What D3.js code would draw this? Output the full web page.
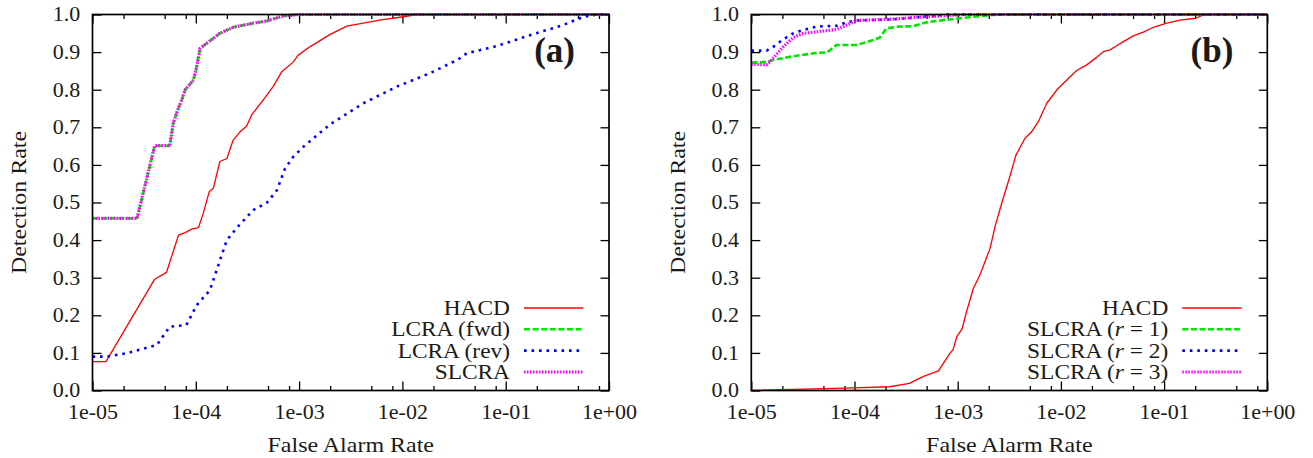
<!DOCTYPE html>
<html>
<head>
<meta charset="utf-8">
<script src="https://cdn.jsdelivr.net/npm/d3@7"></script>
<style>
  html, body { margin: 0; padding: 0; background: #fff; }
  svg { display: block; }
</style>
</head>
<body>
<svg id="chart" width="1313" height="458"></svg>
<script>
// ---- ROC data: [false alarm rate, detection rate] ----
const hacdA = [[1e-5,0.077],[1.35e-5,0.077],[4.0e-5,0.296],[5.2e-5,0.314],[6.8e-5,0.413],[7.9e-5,0.42],[9.1e-5,0.429],[1.06e-4,0.433],[1.18e-4,0.471],[1.35e-4,0.529],[1.48e-4,0.538],[1.71e-4,0.609],[2.0e-4,0.617],[2.3e-4,0.666],[2.68e-4,0.688],[3.1e-4,0.703],[3.47e-4,0.733],[4.5e-4,0.773],[5.6e-4,0.808],[6.8e-4,0.848],[8.8e-4,0.874],[9.8e-4,0.892],[1.27e-3,0.914],[2.0e-3,0.947],[2.9e-3,0.969],[6.0e-3,0.985],[1.02e-2,0.994],[1.38e-2,1.0],[1,1.0]];
const lcraFwdA = [[1e-5,0.458],[2.7e-5,0.458],[4.0e-5,0.651],[5.6e-5,0.651],[6.05e-5,0.711],[6.5e-5,0.737],[7.3e-5,0.773],[7.9e-5,0.8],[9.5e-5,0.826],[1.02e-4,0.861],[1.1e-4,0.91],[1.27e-4,0.923],[1.71e-4,0.95],[2.3e-4,0.966],[3.6e-4,0.977],[4.9e-4,0.983],[7e-4,0.996],[1e-3,1.0],[1,1.0]];
const lcraRevA = [[1e-5,0.09],[1.37e-5,0.09],[2.14e-5,0.099],[4.2e-5,0.121],[5.6e-5,0.17],[8.1e-5,0.174],[1.02e-4,0.227],[1.37e-4,0.267],[1.59e-4,0.32],[1.78e-4,0.36],[2.0e-4,0.40],[2.5e-4,0.433],[3.6e-4,0.48],[4.9e-4,0.5],[6.1e-4,0.533],[7.3e-4,0.59],[8.8e-4,0.622],[1.1e-3,0.648],[1.6e-3,0.686],[2.0e-3,0.708],[4.2e-3,0.764],[8.8e-3,0.808],[1.85e-2,0.844],[3.4e-2,0.879],[4.2e-2,0.897],[8.2e-2,0.916],[0.172,0.945],[0.36,0.972],[0.565,0.994],[0.76,1.0],[1,1.0]];
const slcraA = [[1e-5,0.458],[2.7e-5,0.458],[4.0e-5,0.651],[5.6e-5,0.651],[6.05e-5,0.711],[6.5e-5,0.737],[7.3e-5,0.773],[7.9e-5,0.8],[9.5e-5,0.826],[1.02e-4,0.861],[1.1e-4,0.91],[1.27e-4,0.923],[1.71e-4,0.95],[2.3e-4,0.966],[3.6e-4,0.977],[4.9e-4,0.983],[7e-4,0.996],[1e-3,1.0],[1,1.0]];

const hacdB = [[1e-5,0.0],[5e-5,0.005],[9.7e-5,0.007],[2.2e-4,0.01],[3.4e-4,0.019],[4.6e-4,0.037],[6.5e-4,0.052],[8.4e-4,0.099],[9e-4,0.108],[9.8e-4,0.143],[1.1e-3,0.163],[1.22e-3,0.21],[1.42e-3,0.272],[1.64e-3,0.307],[1.71e-3,0.32],[2.06e-3,0.378],[2.3e-3,0.436],[2.67e-3,0.498],[3.2e-3,0.569],[3.67e-3,0.626],[4.49e-3,0.671],[5.2e-3,0.688],[6.04e-3,0.715],[7.3e-3,0.764],[9.1e-3,0.799],[1.14e-2,0.826],[1.42e-2,0.851],[1.78e-2,0.866],[2.22e-2,0.886],[2.58e-2,0.901],[2.99e-2,0.906],[3.47e-2,0.917],[4.03e-2,0.928],[5.03e-2,0.943],[6.3e-2,0.953],[7.86e-2,0.966],[0.106,0.977],[0.143,0.985],[0.2,0.99],[0.249,1.0],[1,1.0]];
const slcraR1B = [[1e-5,0.872],[1.41e-5,0.874],[1.63e-5,0.879],[2.55e-5,0.889],[4.3e-5,0.898],[5.4e-5,0.899],[6.7e-5,0.919],[1.05e-4,0.919],[1.52e-4,0.932],[1.76e-4,0.939],[2.04e-4,0.963],[2.74e-4,0.968],[3.68e-4,0.969],[4.96e-4,0.979],[7.2e-4,0.985],[1.05e-3,0.99],[1.42e-3,0.994],[2.5e-3,1.0],[1,1.0]];
const slcraR2B = [[1e-5,0.904],[1.41e-5,0.904],[1.63e-5,0.914],[2.04e-5,0.934],[2.55e-5,0.95],[3.2e-5,0.959],[4.3e-5,0.968],[6.7e-5,0.97],[8.4e-5,0.979],[1.05e-4,0.984],[2.37e-4,0.987],[4.6e-4,0.994],[8e-4,1.0],[1,1.0]];
const slcraR3B = [[1e-5,0.868],[1.41e-5,0.866],[1.63e-5,0.884],[2.04e-5,0.914],[2.55e-5,0.939],[3.2e-5,0.95],[4.3e-5,0.954],[6.7e-5,0.96],[8.4e-5,0.972],[1.05e-4,0.984],[2.37e-4,0.988],[5e-4,0.994],[9e-4,0.998],[1.2e-3,1.0],[1,1.0]];

const legendA = ["HACD", "LCRA (fwd)", "LCRA (rev)", "SLCRA"];
const legendB = ["HACD", "SLCRA (r = 1)", "SLCRA (r = 2)", "SLCRA (r = 3)"];

const xMajorTicks = [1e-5, 1e-4, 1e-3, 1e-2, 1e-1, 1];
const xTickLabels = ["1e-05", "1e-04", "1e-03", "1e-02", "1e-01", "1e+00"];
const xMinorMantissas = [2, 5, 8];
const yTicks = [0, 0.1, 0.2, 0.3, 0.4, 0.5, 0.6, 0.7, 0.8, 0.9, 1.0];

const xTitle = "False Alarm Rate";
const yTitle = "Detection Rate";

// ---- line styles (solid / dashed / dotted / fine dotted) ----
const styles = [
  { color: "#ff0000", width: 1.3, dash: null },
  { color: "#00e600", width: 2.6, dash: "6,2.6" },
  { color: "#0000ff", width: 2.6, dash: "2.6,4.9" },
  { color: "#ff00ff", width: 3.2, dash: "1.5,1.5" }
];

const FONT = "'Liberation Serif', Tinos, 'Times New Roman', serif";
const svg = d3.select("#chart").style("font-family", FONT);
const plotTop = 14.5, plotBottom = 390.5;
const FS = 20;          // base font size
const numStretch = 1.1; // horizontal stretch for numeric labels
const txtStretch = 1.2; // horizontal stretch for word labels

const minorTicks = [];
for (let e = -5; e < 0; e++) xMinorMantissas.forEach(m => minorTicks.push(m * Math.pow(10, e)));

function label(sel) {
  return sel.style("font-family", FONT).attr("fill", "#1a1a1a");
}

function drawPanel(left, right, series, legend, tag) {
  const x = d3.scaleLog().domain([1e-5, 1]).range([left, right]);
  const y = d3.scaleLinear().domain([0, 1]).range([plotBottom, plotTop]);
  const g = svg.append("g");

  // bottom axis with labels
  g.append("g").attr("transform", `translate(0,${plotBottom})`)
    .call(d3.axisBottom(x).tickValues(xMajorTicks).tickSize(-9).tickPadding(14.6)
      .tickFormat((d, i) => xTickLabels[i]));
  g.append("g").attr("transform", `translate(0,${plotBottom})`)
    .call(d3.axisBottom(x).tickValues(minorTicks).tickSize(-4.5).tickFormat(""));
  // top mirror ticks
  g.append("g").attr("transform", `translate(0,${plotTop})`)
    .call(d3.axisTop(x).tickValues(xMajorTicks).tickSize(-9).tickFormat(""));
  g.append("g").attr("transform", `translate(0,${plotTop})`)
    .call(d3.axisTop(x).tickValues(minorTicks).tickSize(-4.5).tickFormat(""));
  // left axis with labels, right mirror ticks
  g.append("g").attr("transform", `translate(${left},0)`)
    .call(d3.axisLeft(y).tickValues(yTicks).tickSize(-9).tickPadding(12.3 / numStretch)
      .tickFormat(d3.format(".1f")));
  g.append("g").attr("transform", `translate(${right},0)`)
    .call(d3.axisRight(y).tickValues(yTicks).tickSize(-8.5).tickFormat(""));

  g.selectAll(".domain").remove();
  g.selectAll("g").attr("font-family", null).attr("font-size", null);
  g.selectAll(".tick line").attr("stroke", "#000").attr("stroke-width", 1.3);
  label(g.selectAll(".tick text")).attr("font-size", FS)
    .attr("transform", `scale(${numStretch},1)`);

  // curves
  const line = d3.line().x(d => x(d[0])).y(d => y(d[1]));
  series.forEach((s, i) => {
    const st = styles[i];
    g.append("path").datum(s).attr("d", line)
      .attr("fill", "none").attr("stroke", st.color).attr("stroke-width", st.width)
      .attr("stroke-dasharray", st.dash).attr("stroke-linejoin", "round");
  });

  // frame
  g.append("rect").attr("x", left).attr("y", plotTop).attr("width", right - left).attr("height", plotBottom - plotTop)
    .attr("fill", "none").attr("stroke", "#000").attr("stroke-width", 1.7);

  // axis titles
  label(g.append("text")).attr("transform", `translate(${(left + right) / 2},452) scale(${txtStretch},1)`)
    .attr("text-anchor", "middle").attr("font-size", FS).text(xTitle);
  label(g.append("text")).attr("transform", `translate(${left - 66.5},${(plotTop + plotBottom) / 2}) rotate(-90) scale(${txtStretch},1)`)
    .attr("text-anchor", "middle").attr("font-size", FS).text(yTitle);

  // panel tag
  label(g.append("text")).attr("x", right - 34).attr("y", 62).attr("text-anchor", "end")
    .attr("font-size", 35).attr("font-weight", "bold").text(tag);

  // legend
  const rowY = [308, 329.3, 350.6, 372];
  const textX = right - 99;
  const l0 = right - 85, l1 = right - 25.7;
  legend.forEach((lab, i) => {
    const t = label(g.append("text")).attr("transform", `translate(${textX},${rowY[i] + 7}) scale(1.17,1)`)
      .attr("text-anchor", "end").attr("font-size", FS);
    const m = lab.match(/^(.*\()r( = \d\))$/);
    if (m) {
      t.append("tspan").text(m[1]);
      t.append("tspan").attr("font-style", "italic").text("r");
      t.append("tspan").text(m[2]);
    } else {
      t.text(lab);
    }
    const st = styles[i];
    g.append("line").attr("x1", l0).attr("x2", l1).attr("y1", rowY[i]).attr("y2", rowY[i])
      .attr("stroke", st.color).attr("stroke-width", st.width).attr("stroke-dasharray", st.dash);
  });
}

drawPanel(92.5, 609, [hacdA, lcraFwdA, lcraRevA, slcraA], legendA, "(a)");
drawPanel(751.3, 1267.3, [hacdB, slcraR1B, slcraR2B, slcraR3B], legendB, "(b)");
</script>
</body>
</html>
